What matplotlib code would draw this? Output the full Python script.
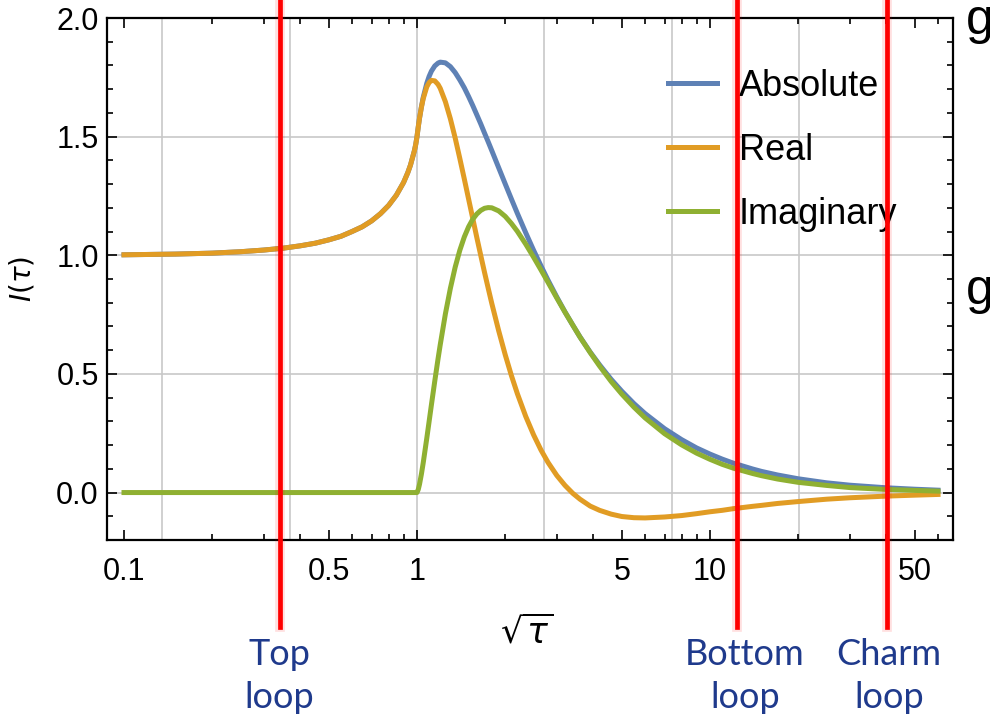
import matplotlib
matplotlib.use("Agg")
import matplotlib.pyplot as plt
import matplotlib.transforms as mtransforms
import numpy as np

plt.rcParams['font.family'] = ['Liberation Sans', 'DejaVu Sans']

# values (rows of ten)
sqrt_tau = [0.1, 0.15, 0.2, 0.25, 0.3, 0.35, 0.4, 0.45, 0.5, 0.55,
            0.6, 0.65, 0.7, 0.75, 0.8, 0.85, 0.9, 0.93, 0.95, 0.98,
            0.99, 1.0, 1.01, 1.02, 1.035, 1.05, 1.08, 1.1, 1.12, 1.15,
            1.18, 1.2, 1.25, 1.3, 1.35, 1.4, 1.45, 1.5, 1.55, 1.6,
            1.65, 1.7, 1.75, 1.8, 1.9, 2.0, 2.1, 2.2, 2.35, 2.5,
            2.65, 2.8, 3.0, 3.2, 3.4, 3.6, 3.9, 4.2, 4.6, 5,
            5.5, 6, 7, 8, 9, 10, 11, 12, 14, 15,
            17, 20, 25, 30, 40, 50, 60]
real_part = [1.002, 1.005, 1.009, 1.015, 1.022, 1.030, 1.040, 1.051, 1.065, 1.080,
             1.100, 1.120, 1.145, 1.175, 1.210, 1.253, 1.307, 1.348, 1.380, 1.441,
             1.467, 1.500, 1.541, 1.578, 1.623, 1.660, 1.710, 1.728, 1.737, 1.735,
             1.720, 1.704, 1.647, 1.575, 1.494, 1.408, 1.322, 1.237, 1.155, 1.075,
             1.000, 0.928, 0.861, 0.797, 0.682, 0.581, 0.493, 0.417, 0.321, 0.243,
             0.179, 0.127, 0.072, 0.030, -0.003, -0.028, -0.057, -0.075, -0.091, -0.101,
             -0.106, -0.107, -0.103, -0.097, -0.089, -0.081, -0.075, -0.068, -0.058, -0.054,
             -0.046, -0.038, -0.028, -0.022, -0.015, -0.011, -0.008]
imag_part = [0, 0, 0, 0, 0, 0, 0, 0, 0, 0,
             0, 0, 0, 0, 0, 0, 0, 0, 0, 0,
             0, 0, 0.013, 0.035, 0.077, 0.125, 0.229, 0.300, 0.370, 0.470,
             0.564, 0.622, 0.753, 0.861, 0.950, 1.021, 1.077, 1.120, 1.152, 1.174,
             1.189, 1.198, 1.201, 1.200, 1.187, 1.164, 1.134, 1.101, 1.047, 0.992,
             0.938, 0.886, 0.820, 0.760, 0.706, 0.655, 0.590, 0.533, 0.468, 0.415,
             0.360, 0.315, 0.248, 0.201, 0.166, 0.140, 0.119, 0.103, 0.080, 0.071,
             0.057, 0.043, 0.030, 0.021, 0.013, 0.009, 0.006]
abs_value = [1.002, 1.005, 1.009, 1.015, 1.022, 1.030, 1.040, 1.051, 1.065, 1.080,
             1.100, 1.120, 1.145, 1.175, 1.210, 1.253, 1.307, 1.348, 1.380, 1.441,
             1.467, 1.500, 1.541, 1.578, 1.625, 1.665, 1.725, 1.754, 1.776, 1.798,
             1.810, 1.814, 1.811, 1.795, 1.770, 1.739, 1.706, 1.669, 1.631, 1.592,
             1.554, 1.515, 1.478, 1.441, 1.369, 1.301, 1.237, 1.177, 1.095, 1.021,
             0.955, 0.895, 0.824, 0.761, 0.706, 0.656, 0.592, 0.538, 0.477, 0.427,
             0.375, 0.333, 0.269, 0.223, 0.188, 0.162, 0.141, 0.124, 0.099, 0.089,
             0.074, 0.058, 0.041, 0.031, 0.020, 0.014, 0.010]

loop_names = ['Top\nloop', 'Bottom\nloop', 'Charm\nloop']
loop_pos = [0.34, 12.4, 40.3]

x_major = [0.1, 0.5, 1, 5, 10, 50]
x_major_labels = ['0.1', '0.5', '1', '5', '10', '50']
x_minor = [0.2, 0.3, 0.4, 0.6, 0.7, 0.8, 0.9, 2, 3, 4, 6, 7, 8, 9, 20, 30, 40, 60]
y_major = [0.0, 0.5, 1.0, 1.5, 2.0]
y_major_labels = ['0.0', '0.5', '1.0', '1.5', '2.0']

W, H = 990, 722
fig = plt.figure(figsize=(W / 100, H / 100), dpi=100)
ax = fig.add_axes([107 / W, 1 - 540 / H, (953 - 107) / W, (540 - 18) / H])

# grid lines (Mathematica style: at e^k on the log axis)
for k in range(-2, 4):
    ax.axvline(np.exp(k), color='#c8c8c8', lw=1.2, zorder=0)
for yv in [0.0, 0.5, 1.0, 1.5]:
    ax.axhline(yv, color='#c8c8c8', lw=1.2, zorder=0)

ax.plot(sqrt_tau, abs_value, color='#5e81b5', lw=3.6, label='Absolute')
ax.plot(sqrt_tau, real_part, color='#e19c24', lw=3.6, label='Real')
ax.plot(sqrt_tau, imag_part, color='#8fb032', lw=3.6, label='Imaginary')

ax.set_xscale('log')
ax.set_xlim(0.0875, 67.5)
ax.set_ylim(-0.2, 2.0)
ax.set_xticks(x_major)
ax.set_xticklabels(x_major_labels)
ax.set_xticks(x_minor, minor=True)
ax.set_xticklabels([], minor=True)
ax.set_yticks(y_major)
ax.set_yticklabels(y_major_labels)
ax.set_yticks([v / 10 for v in range(-2, 20) if v % 5 != 0], minor=True)

ax.tick_params(which='both', direction='in', top=True, right=True, labelsize=22, width=1.2)
ax.tick_params(which='major', length=7)
ax.tick_params(which='minor', length=4)
ax.tick_params(axis='x', which='major', pad=12)
ax.tick_params(axis='y', which='major', pad=6)
for s in ax.spines.values():
    s.set_linewidth(1.6)

ax.set_ylabel(r'$I(\tau)$', fontsize=20, labelpad=14)
fig.text(527 / W, 1 - 632 / H, r'$\sqrt{\tau}$', fontsize=25, ha='center', va='center')

leg = ax.legend(loc='upper left', bbox_to_anchor=(668 / W, 1 - 69 / H),
                bbox_transform=fig.transFigure, frameon=False, fontsize=26,
                handlelength=1.36, handletextpad=0.6, labelspacing=0.8,
                borderpad=0, borderaxespad=0)

# red marker lines running past the axes
trans = mtransforms.blended_transform_factory(ax.transData, fig.transFigure)
for xp in loop_pos:
    ax.plot([xp, xp], [1 - 627 / H, 1.0], transform=trans, color='#ff0000', lw=7,
            alpha=0.12, clip_on=False, zorder=5)
    ax.plot([xp, xp], [1 - 627 / H, 1.0], transform=trans, color='#ff0000', lw=3.4,
            clip_on=False, zorder=6)

label_x = [279, 745, 889]
for name, lx in zip(loop_names, label_x):
    fig.text(lx / W, 1 - 676 / H, name, fontsize=26, family='Lato', color='#1f3a8c',
             ha='center', va='center', linespacing=1.4)

# cut-off letters from the slide on the right edge
fig.text(966 / W, 1 - 34 / H, 'g', fontsize=36, va='baseline', ha='left')
fig.text(966 / W, 1 - 304 / H, 'g', fontsize=36, va='baseline', ha='left')

fig.savefig('out.png', dpi=100)
